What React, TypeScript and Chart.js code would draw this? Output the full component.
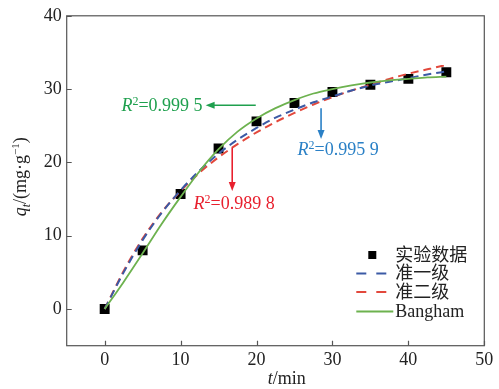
import React, { useEffect, useRef } from 'react';
import { Chart, registerables } from 'chart.js';

Chart.register(...registerables);

// ---- data ----
const tExp = [0, 5, 10, 15, 20, 25, 30, 35, 40, 45];
const qExp = [0, 8.0, 15.7, 21.9, 25.6, 28.1, 29.6, 30.6, 31.4, 32.3];

const tFit = [0, 2.5, 5, 7.5, 10, 12.5, 15, 17.5, 20, 22.5, 25, 27.5, 30, 32.5, 35, 37.5, 40, 42.5, 45];
const qPFO = [0, 5.0, 9.4, 13.1, 16.2, 18.9, 21.2, 23.1, 24.7, 26.1, 27.2, 28.2, 29.0, 29.8, 30.5, 31.0, 31.5, 32.0, 32.4];
const qPSO = [0, 5.2, 9.6, 13.2, 16.1, 18.6, 20.7, 22.5, 24.1, 25.5, 26.75, 27.9, 28.9, 29.8, 30.6, 31.4, 32.1, 32.7, 33.3];
const qBangham = [0, 3.7, 7.6, 11.6, 15.3, 18.8, 21.8, 24.2, 26.0, 27.4, 28.5, 29.4, 30.0, 30.5, 30.9, 31.2, 31.4, 31.6, 31.7];

const seriesLabels = ['实验数据', '准一级', '准二级', 'Bangham'];
const xTicks = [0, 10, 20, 30, 40, 50];
const yTicks = [0, 10, 20, 30, 40];

const r2Labels = ['0.999 5', '0.995 9', '0.989 8'];

const FONT = '"Liberation Serif", "Times New Roman", "Noto Sans CJK SC", serif';
const C_BLUE = '#3b5aa5';
const C_RED = '#e2483c';
const C_GREEN = '#6db24f';

type Run = { text: string; italic?: boolean; size?: number; dy?: number };

function runsWidth(ctx: CanvasRenderingContext2D, runs: Run[]) {
  let w = 0;
  for (const r of runs) {
    ctx.font = `${r.italic ? 'italic ' : ''}${r.size || 18}px ${FONT}`;
    w += ctx.measureText(r.text).width;
  }
  return w;
}

function drawRuns(ctx: CanvasRenderingContext2D, runs: Run[], x: number, y: number, align: 'left' | 'right' | 'center') {
  const w = runsWidth(ctx, runs);
  let cx = align === 'left' ? x : align === 'right' ? x - w : x - w / 2;
  ctx.textAlign = 'left';
  ctx.textBaseline = 'alphabetic';
  for (const r of runs) {
    ctx.font = `${r.italic ? 'italic ' : ''}${r.size || 18}px ${FONT}`;
    ctx.fillText(r.text, cx, y + (r.dy || 0));
    cx += ctx.measureText(r.text).width;
  }
}

function arrow(ctx: CanvasRenderingContext2D, x1: number, y1: number, x2: number, y2: number, color: string) {
  const ang = Math.atan2(y2 - y1, x2 - x1);
  const hl = 9, hw = 3.5;
  ctx.save();
  ctx.strokeStyle = color;
  ctx.fillStyle = color;
  ctx.lineWidth = 1.6;
  ctx.beginPath();
  ctx.moveTo(x1, y1);
  ctx.lineTo(x2 - Math.cos(ang) * hl * 0.8, y2 - Math.sin(ang) * hl * 0.8);
  ctx.stroke();
  ctx.beginPath();
  ctx.moveTo(x2, y2);
  ctx.lineTo(x2 - Math.cos(ang) * hl - Math.sin(ang) * hw, y2 - Math.sin(ang) * hl + Math.cos(ang) * hw);
  ctx.lineTo(x2 - Math.cos(ang) * hl + Math.sin(ang) * hw, y2 - Math.sin(ang) * hl - Math.cos(ang) * hw);
  ctx.closePath();
  ctx.fill();
  ctx.restore();
}

const decor = {
  id: 'decor',
  afterDraw(chart: any) {
    const ctx: CanvasRenderingContext2D = chart.ctx;
    const ca = chart.chartArea;
    const xs = chart.scales.x;
    const ys = chart.scales.y;
    ctx.save();

    // frame
    ctx.strokeStyle = '#555';
    ctx.lineWidth = 1.2;
    ctx.strokeRect(ca.left, ca.top, ca.right - ca.left, ca.bottom - ca.top);
    // inward ticks
    ctx.beginPath();
    for (const v of xTicks) {
      const px = Math.round(xs.getPixelForValue(v)) + 0.5;
      ctx.moveTo(px, ca.bottom);
      ctx.lineTo(px, ca.bottom - 5);
    }
    for (const v of yTicks) {
      const py = Math.round(ys.getPixelForValue(v)) + 0.5;
      ctx.moveTo(ca.left, py);
      ctx.lineTo(ca.left + 5, py);
    }
    ctx.stroke();

    // axis titles
    ctx.fillStyle = '#222';
    drawRuns(ctx, [{ text: 't', italic: true }, { text: '/min' }], ca.left + (ca.right - ca.left) * 0.527, 384, 'center');
    ctx.save();
    ctx.translate(26, (ca.top + ca.bottom) / 2 - 4);
    ctx.rotate(-Math.PI / 2);
    drawRuns(ctx, [
      { text: 'q', italic: true },
      { text: 't', italic: true, size: 12, dy: 4 },
      { text: '/(mg·g' },
      { text: '−1', size: 11, dy: -7 },
      { text: ')' },
    ], 0, 0, 'center');
    ctx.restore();

    // annotations
    const gx = (v: number) => xs.getPixelForValue(v);
    const gy = (v: number) => ys.getPixelForValue(v);
    const r2 = (val: string): Run[] => [
      { text: 'R', italic: true },
      { text: '2', size: 12, dy: -6 },
      { text: '=' + val },
    ];
    // green
    ctx.fillStyle = '#1fa04e';
    drawRuns(ctx, r2(r2Labels[0]), gx(12.9), gy(27.8) + 6, 'right');
    arrow(ctx, gx(19.9), gy(27.8), gx(13.3), gy(27.8), '#1fa04e');
    // blue
    ctx.fillStyle = '#2a80c6';
    drawRuns(ctx, r2(r2Labels[1]), gx(25.4), gy(21.8) + 6, 'left');
    arrow(ctx, gx(28.5), gy(27.4), gx(28.5), gy(23.2), '#2a80c6');
    // red
    ctx.fillStyle = '#e8202e';
    drawRuns(ctx, r2(r2Labels[2]), gx(11.7), gy(14.5) + 6, 'left');
    arrow(ctx, gx(16.8), gy(22.0), gx(16.8), gy(16.1), '#e8202e');

    // legend
    const tx = ca.right - 89;
    const rows = [ca.bottom - 90.7, ca.bottom - 72.2, ca.bottom - 53.7, ca.bottom - 34.2];
    const l0 = ca.right - 128;
    // square
    ctx.fillStyle = '#000';
    ctx.fillRect(ca.right - 116, rows[0] - 4, 8, 8);
    ctx.lineWidth = 2;
    ctx.setLineDash([10, 10]);
    ctx.strokeStyle = C_BLUE;
    ctx.beginPath(); ctx.moveTo(l0, rows[1]); ctx.lineTo(l0 + 30, rows[1]); ctx.stroke();
    ctx.strokeStyle = C_RED;
    ctx.beginPath(); ctx.moveTo(l0, rows[2]); ctx.lineTo(l0 + 30, rows[2]); ctx.stroke();
    ctx.setLineDash([]);
    ctx.strokeStyle = C_GREEN;
    ctx.beginPath(); ctx.moveTo(l0, rows[3]); ctx.lineTo(l0 + 37, rows[3]); ctx.stroke();
    ctx.fillStyle = '#222';
    ctx.font = `18px ${FONT}`;
    ctx.textAlign = 'left';
    ctx.textBaseline = 'middle';
    seriesLabels.forEach((s, i) => ctx.fillText(s, tx, rows[i] + 1));

    ctx.restore();
  },
};

export default function App() {
  const ref = useRef<HTMLCanvasElement | null>(null);
  useEffect(() => {
    if (!ref.current) return;
    Chart.defaults.font.family = FONT;
    const chart = new Chart(ref.current, {
      type: 'scatter',
      data: {
        datasets: [
          {
            label: seriesLabels[0],
            data: tExp.map((t, i) => ({ x: t, y: qExp[i] })),
            pointStyle: 'rect',
            pointRadius: 7,
            backgroundColor: '#000',
            borderColor: '#111',
            borderWidth: 0,
            showLine: false,
            order: 4,
          },
          {
            label: seriesLabels[1],
            data: tFit.map((t, i) => ({ x: t, y: qPFO[i] })),
            showLine: true,
            pointRadius: 0,
            borderColor: C_BLUE,
            borderWidth: 2,
            borderDash: [8, 5],
            cubicInterpolationMode: 'monotone',
            order: 2,
          },
          {
            label: seriesLabels[2],
            data: tFit.map((t, i) => ({ x: t, y: qPSO[i] })),
            showLine: true,
            pointRadius: 0,
            borderColor: C_RED,
            borderWidth: 2,
            borderDash: [8, 5],
            cubicInterpolationMode: 'monotone',
            order: 3,
          },
          {
            label: seriesLabels[3],
            data: tFit.map((t, i) => ({ x: t, y: qBangham[i] })),
            showLine: true,
            pointRadius: 0,
            borderColor: C_GREEN,
            borderWidth: 1.8,
            cubicInterpolationMode: 'monotone',
            order: 1,
          },
        ],
      },
      options: {
        responsive: false,
        animation: false,
        layout: { padding: { top: 14, right: 14.7, left: 0, bottom: 0 } },
        plugins: { legend: { display: false }, tooltip: { enabled: false } },
        scales: {
          x: {
            type: 'linear',
            min: -5,
            max: 50,
            afterBuildTicks: (s: any) => { s.ticks = xTicks.map((v) => ({ value: v })); },
            afterFit: (s: any) => { s.height = 43.3; },
            grid: { display: false, drawTicks: false },
            border: { display: false },
            ticks: { padding: 4, color: '#222', font: { size: 18, family: FONT }, maxRotation: 0 },
          },
          y: {
            type: 'linear',
            min: -5,
            max: 40,
            afterBuildTicks: (s: any) => { s.ticks = yTicks.map((v) => ({ value: v })); },
            afterFit: (s: any) => { s.width = 66.7; },
            grid: { display: false, drawTicks: false },
            border: { display: false },
            ticks: { padding: 5, color: '#222', font: { size: 18, family: FONT } },
          },
        },
      },
      plugins: [decor],
    } as any);
    return () => chart.destroy();
  }, []);
  return (
    <div style={{ position: 'absolute', left: 0, top: 0, width: 499, height: 389, background: '#fff' }}>
      <canvas ref={ref} width={499} height={389} />
    </div>
  );
}
